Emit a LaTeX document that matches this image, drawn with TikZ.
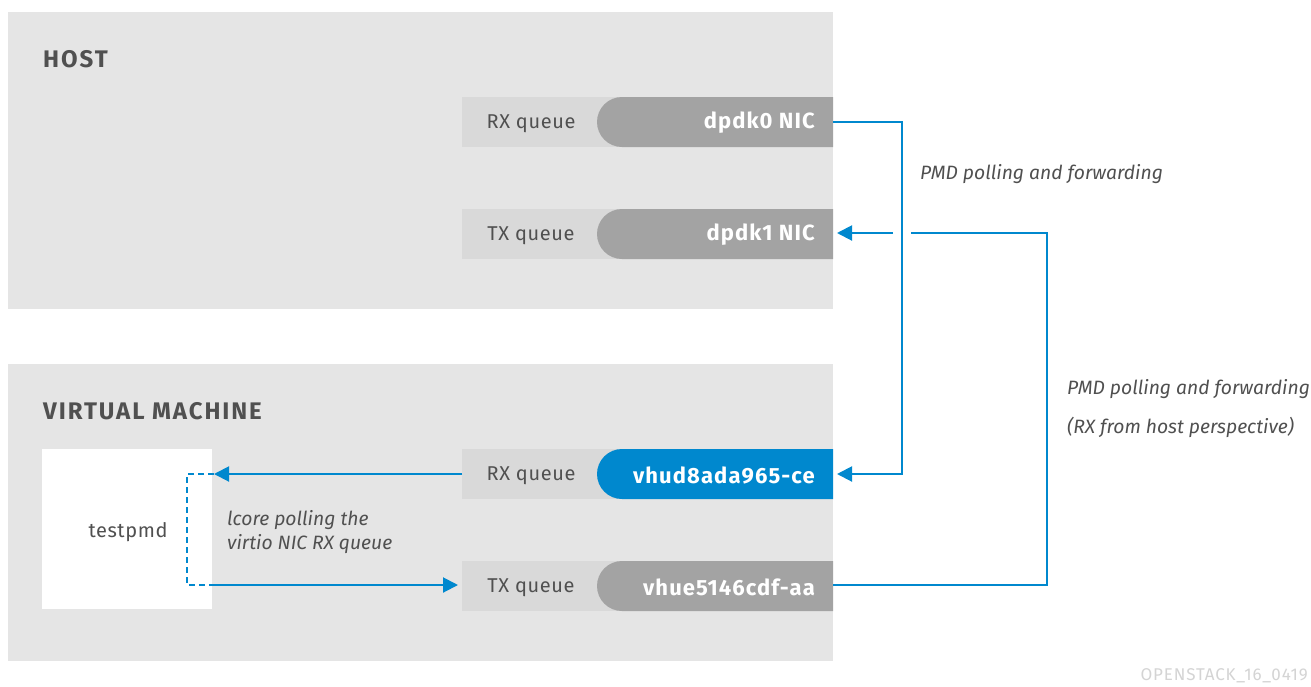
\documentclass[tikz,border=0pt]{standalone}
\usepackage{fontspec}
\setmainfont{Fira Sans}
\newfontfamily\titlefont[LetterSpace=8]{Fira Sans}
\newfontfamily\nicfont[LetterSpace=5]{Fira Sans}
\newfontfamily\qfont[LetterSpace=3]{Fira Sans}
\newfontfamily\wmfont[LetterSpace=5]{Fira Sans}
\usetikzlibrary{arrows.meta,shapes.misc}
\definecolor{panelc}{HTML}{E5E5E5}
\definecolor{qboxc}{HTML}{D9D9D9}
\definecolor{pillgray}{HTML}{A3A3A3}
\definecolor{rhblue}{HTML}{0088CE}
\definecolor{txtc}{HTML}{505050}
\definecolor{wmc}{HTML}{D4D4D4}
\tikzset{
  panelbox/.style={fill=panelc, draw=none, inner sep=0pt, outer sep=0pt, minimum width=825pt, minimum height=297pt, anchor=north west},
  qrow/.style={fill=qboxc, draw=none, inner sep=0pt, outer sep=0pt, minimum width=371pt, minimum height=50pt, anchor=north west},
  pill/.style={rounded rectangle, rounded rectangle right arc=none, draw=none, inner sep=0pt, outer sep=0pt, minimum width=236pt, minimum height=50pt, anchor=north east},
  qtext/.style={text=txtc, font=\qfont\fontsize{20}{22}\selectfont, inner sep=0pt},
  nictext/.style={text=white, font=\nicfont\bfseries\fontsize{22}{24}\selectfont, inner sep=0pt, anchor=east},
  title/.style={text=txtc, font=\titlefont\bfseries\fontsize{24}{26}\selectfont, inner sep=0pt, anchor=west},
  note/.style={text=txtc, font=\itshape\fontsize{19.3}{24}\selectfont, inner sep=0pt, anchor=west},
  flow/.style={draw=rhblue, line width=2pt},
  tip/.style={-{Triangle[length=15pt,width=15pt]}},
}
\begin{document}
\begin{tikzpicture}[x=1pt,y=-1pt]
\useasboundingbox[fill=white] (0,0) rectangle (1311,686);
% panels
\node[panelbox] (host) at (8,12) {};
\node[panelbox] (vm) at (8,364) {};
\node[title] (hostt) at (43,59) {HOST};
\node[title] (vmt) at (43,411) {VIRTUAL MACHINE};
% testpmd
\node[fill=white, inner sep=0pt, minimum width=170pt, minimum height=160pt, anchor=north west] (tpbox) at (42,449) {};
\node[qtext] (tpt) at (128,532) {testpmd};
% host rows
\node[qrow] (hrx) at (462,97) {};
\node[pill, fill=pillgray] (dpdk0) at (833,97) {};
\node[qtext] (hrxt) at (531,124) {RX queue};
\node[nictext] (dpdk0t) at (815,123) {dpdk0 NIC};
\node[qrow] (htx) at (462,209) {};
\node[pill, fill=pillgray] (dpdk1) at (833,209) {};
\node[qtext] (htxt) at (531,236) {TX queue};
\node[nictext] (dpdk1t) at (815,235) {dpdk1 NIC};
% vm rows
\node[qrow] (vrx) at (462,449) {};
\node[pill, fill=rhblue] (vhud) at (833,449) {};
\node[qtext] (vrxt) at (531,476) {RX queue};
\node[nictext] (vhudt) at (815,475) {vhud8ada965-ce};
\node[qrow] (vtx) at (462,561) {};
\node[pill, fill=pillgray] (vhue) at (833,561) {};
\node[qtext] (vtxt) at (531,588) {TX queue};
\node[nictext] (vhuet) at (815,587) {vhue5146cdf-aa};
% labels
\node[note] (l1) at (920,174) {PMD polling and forwarding};
\node[note] (l2) at (1067,389) {PMD polling and forwarding};
\node[note] (l3) at (1067,427) {(RX from host perspective)};
\node[note, align=left, anchor=north west] (l4) at (227,510) {lcore polling the\\virtio NIC RX queue};
\node[text=wmc, font=\wmfont\fontsize{17}{19}\selectfont, inner sep=0pt, anchor=east] (wm) at (1308,676) {OPENSTACK\_16\_0419};
% coordinates
\coordinate (a1) at (902,122);
\coordinate (a2) at (902,474);
\coordinate (b1) at (1047,585);
\coordinate (b2) at (1047,233);
\coordinate (b3) at (911,233);
\coordinate (b4) at (893,233);
\coordinate (c0) at (462,474);
\coordinate (c1) at (214,474);
\coordinate (d1) at (187,474);
\coordinate (d2) at (187,585);
\coordinate (d3) at (212,585);
\coordinate (c2) at (458,585);
% connectors
\draw[flow, tip, shorten >=4pt] (dpdk0.east |- a1) -- (a1) -- (a2) -- (vhud.east |- a2);
\draw[flow] (vhue.east |- b1) -- (b1) -- (b2) -- (b3);
\draw[flow, tip, shorten >=4pt] (b4) -- (dpdk1.east |- b4);
\draw[flow, tip] (c0) -- (c1);
\draw[flow, dash pattern=on 6pt off 4pt] (c1) -- (d1) -- (d2) -- (d3);
\draw[flow, tip] (d3) -- (c2);
\end{tikzpicture}
\end{document}
